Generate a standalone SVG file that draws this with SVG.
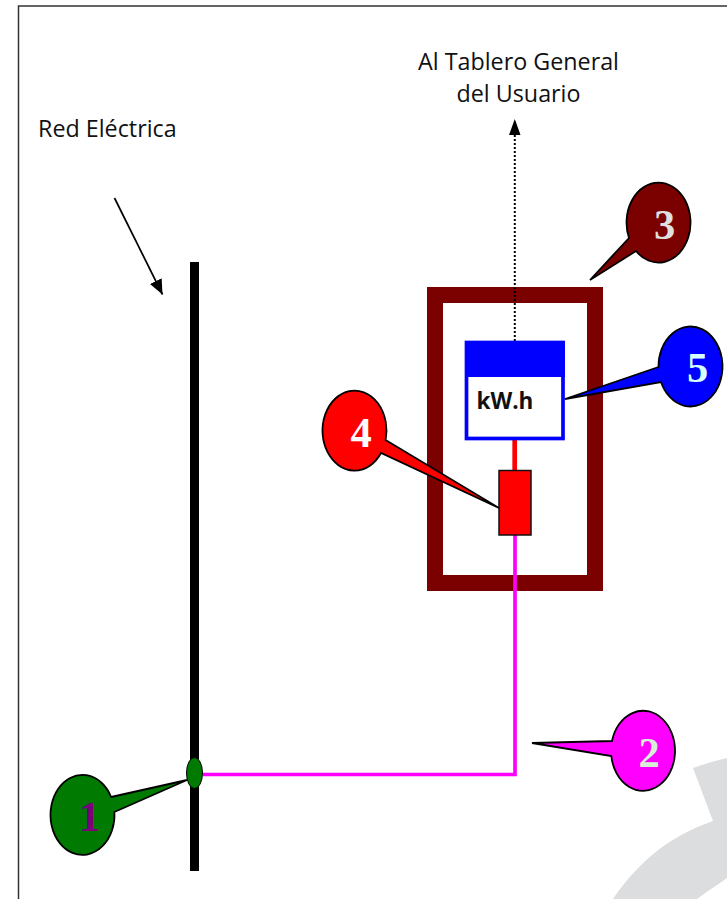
<svg xmlns="http://www.w3.org/2000/svg" width="727" height="899" viewBox="0 0 727 899">
<style>
.lbl{font-family:"Open Sans","Liberation Sans",sans-serif;font-size:23.300px;fill:#111}
.num{font-family:"Liberation Serif",serif;font-size:42.500px;font-weight:bold;text-anchor:middle}
.bub{stroke:#000;stroke-width:1.800}
</style>
<defs>
<marker id="ah" markerUnits="userSpaceOnUse" markerWidth="17" markerHeight="14" refX="15" refY="7" orient="auto"><path d="M0 0.500L15 7L0 13.500Z" fill="#000"/></marker>
</defs>
<rect width="727" height="899" fill="#fff"/>
<path id="watermark" d="M693 768Q710 762 727 758V878C717 885 705 893 697 899H613C640 860 670 836 713 821Z" fill="#dcddde"/>
<path id="frame" d="M18.500 899V6H727" fill="none" stroke="#333" stroke-width="1.500"/>
<g id="labels">
<text class="lbl" x="38" y="137">Red Eléctrica</text>
<text class="lbl" x="518.500" y="70" text-anchor="middle">Al Tablero General</text>
<text class="lbl" x="518.500" y="102" text-anchor="middle">del Usuario</text>
</g>
<g id="box"><rect x="435" y="295" width="160" height="288" fill="none" stroke="#7b0000" stroke-width="16"/></g>
<g id="connectors" fill="none">
<path d="M114.500 198L162.500 294.500" stroke="#000" stroke-width="1.700" marker-end="url(#ah)"/>
<path d="M514.800 341V135" stroke="#000" stroke-width="2" stroke-dasharray="2 2"/>
<path d="M514.800 119L520.500 135H509Z" fill="#000"/>
<path d="M514.700 438V470" stroke="#f00" stroke-width="4.700"/>
<path d="M203 774.500H515V535" stroke="#f0f" stroke-width="3.700"/>
</g>
<rect id="bar" x="190" y="262" width="9" height="609" fill="#000"/>
<g id="junction"><ellipse cx="194.500" cy="773" rx="8" ry="15.500" fill="#007a00" stroke="#000" stroke-width="1"/></g>
<g id="meter">
<rect x="466.500" y="342.500" width="96.500" height="96" fill="#fff" stroke="#00f" stroke-width="3.700"/>
<rect x="465" y="341" width="100" height="36" fill="#00f"/>
<text x="476.500" y="408.500" font-family="'Open Sans','Liberation Sans',sans-serif" font-size="22.500" font-weight="bold" fill="#111">kW.h</text>
</g>
<g id="breaker"><rect x="499" y="470.500" width="32" height="64.500" fill="#f00" stroke="#111" stroke-width="1.500"/></g>
<g id="callout1"><path class="bub" fill="#007a00" d="M111.100 797L187 780L114.400 812A32 40 0 1 1 111.100 797Z"/><text class="num" x="89.500" y="831" fill="#7b007b">1</text></g>
<g id="callout2"><path class="bub" fill="#f0f" d="M612 741L532 743L611.300 756A32 40 0 1 0 612 741Z"/><text class="num" x="649" y="767" fill="#d8f0d8">2</text></g>
<g id="callout3"><path class="bub" fill="#7b0000" d="M629 238L590 280L636 251A32 40 0 1 0 629 238Z"/><text class="num" x="664.500" y="238.500" fill="#e0e0e0">3</text></g>
<g id="callout4"><path class="bub" fill="#f00" d="M385.600 440L499 508L381 453A32 40 0 1 1 385.600 440Z"/><text class="num" x="361" y="446.500" fill="#fff">4</text></g>
<g id="callout5"><path class="bub" fill="#00f" d="M658.500 367L565 399L661 382A32 40 0 1 0 658.500 367Z"/><text class="num" x="697.500" y="382" fill="#d8ffff">5</text></g>
</svg>
